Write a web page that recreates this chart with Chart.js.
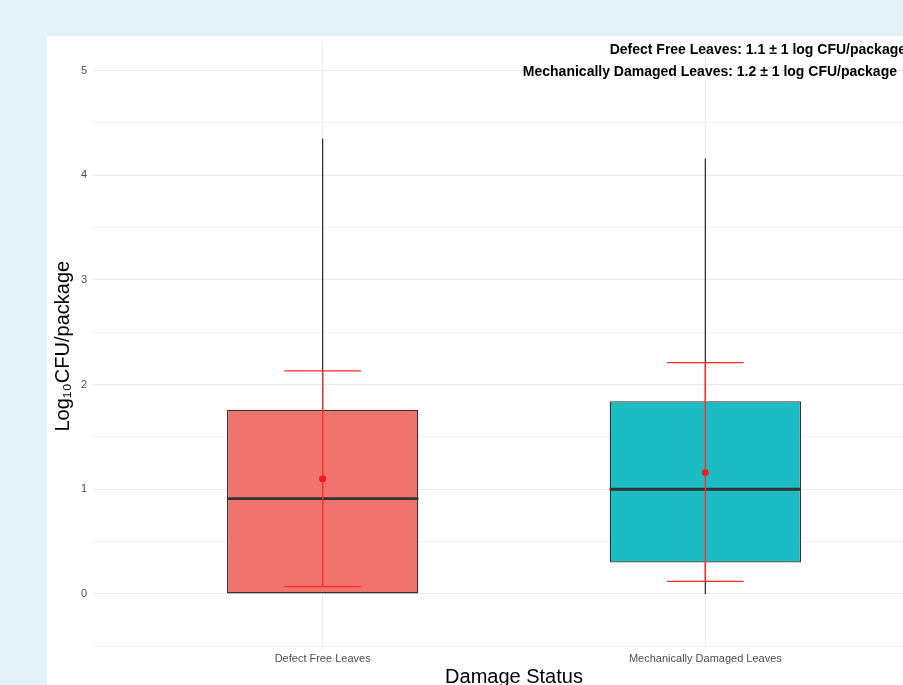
<!DOCTYPE html>
<html>
<head>
<meta charset="utf-8">
<script src="https://cdn.jsdelivr.net/npm/chart.js@4.4.0/dist/chart.umd.min.js"></script>
<style>
  html, body { margin: 0; padding: 0; }
  body { width: 903px; height: 685px; overflow: hidden; background: #e3f2f7; position: relative; font-family: "Liberation Sans", Arial, sans-serif; }
  #panel { position: absolute; left: 47px; top: 36px; width: 856px; height: 649px; background: #fff; }
  #holder { position: absolute; left: 47px; top: 30px; width: 900px; height: 659px; }
  .note { position: absolute; font-weight: bold; font-size: 14px; color: #000; white-space: nowrap; }
</style>
</head>
<body>
<div id="panel"></div>
<div id="holder"><canvas id="chart"></canvas></div>
<div class="note" style="right:-3px; top:41px;">Defect Free Leaves: 1.1 ± 1 log CFU/package</div>
<div class="note" style="right:6px; top:63px;">Mechanically Damaged Leaves: 1.2 ± 1 log CFU/package</div>
<script>
// data
var categories = ["Defect Free Leaves", "Mechanically Damaged Leaves"];
var xPos = [1, 2];
var q1 = [0, 0.30];
var q3 = [1.76, 1.84];
var medians = [0.91, 1.0];
var whiskerLow = [0, 0];
var whiskerHigh = [4.35, 4.16];
var means = [1.10, 1.16];
var errLow = [0.07, 0.12];
var errHigh = [2.13, 2.21];
var yTicks = [0, 1, 2, 3, 4, 5];
var yMinor = [-0.5, 0.5, 1.5, 2.5, 3.5, 4.5];
var fills = ["#f1736d", "#1bbcc4"];

var boxHalf = 0.25, capHalf = 0.1;

// build segment lists (null breaks the line)
var whiskers = [], medianSeg = [], errSeg = [];
xPos.forEach(function (x, i) {
  whiskers.push({x: x, y: q3[i]}, {x: x, y: whiskerHigh[i]}, {x: x, y: null});
  whiskers.push({x: x, y: whiskerLow[i]}, {x: x, y: q1[i]}, {x: x, y: null});
  medianSeg.push({x: x - boxHalf, y: medians[i]}, {x: x + boxHalf, y: medians[i]}, {x: x, y: null});
  errSeg.push({x: x, y: errLow[i]}, {x: x, y: errHigh[i]}, {x: x, y: null});
  errSeg.push({x: x - capHalf, y: errHigh[i]}, {x: x + capHalf, y: errHigh[i]}, {x: x, y: null});
  errSeg.push({x: x - capHalf, y: errLow[i]}, {x: x + capHalf, y: errLow[i]}, {x: x, y: null});
});

var allY = yTicks.concat(yMinor).sort(function (a, b) { return a - b; });

new Chart(document.getElementById("chart"), {
  type: "bar",
  data: {
    datasets: [
      {
        type: "bar",
        data: xPos.map(function (x, i) { return {x: x, y: [q1[i], q3[i]]}; }),
        backgroundColor: fills,
        borderColor: "#333333",
        borderWidth: 1.3,
        borderSkipped: false,
        barPercentage: 0.5,
        categoryPercentage: 1,
        order: 10
      },
      {
        type: "line",
        data: whiskers,
        borderColor: "#333333",
        borderWidth: 1.3,
        pointRadius: 0,
        spanGaps: false,
        order: 8
      },
      {
        type: "line",
        data: medianSeg,
        borderColor: "#333333",
        borderWidth: 2.8,
        pointRadius: 0,
        spanGaps: false,
        order: 6
      },
      {
        type: "line",
        data: errSeg,
        borderColor: "#ff2a2a",
        borderWidth: 1.3,
        pointRadius: 0,
        spanGaps: false,
        order: 4
      },
      {
        type: "line",
        data: xPos.map(function (x, i) { return {x: x, y: means[i]}; }),
        showLine: false,
        pointRadius: 3.5,
        pointBackgroundColor: "#ee1c25",
        pointBorderWidth: 0,
        order: 2
      }
    ]
  },
  options: {
    responsive: true,
    maintainAspectRatio: false,
    animation: false,
    layout: { padding: { top: 0, right: 12, left: 0, bottom: 0 } },
    plugins: { legend: { display: false }, tooltip: { enabled: false } },
    scales: {
      x: {
        type: "linear",
        min: 0.4,
        max: 2.6,
        offset: false,
        afterBuildTicks: function (scale) {
          scale.ticks = xPos.map(function (v) { return {value: v}; });
        },
        ticks: {
          color: "#4d4d4d",
          font: { size: 11, family: "Liberation Sans" },
          padding: 3,
          maxRotation: 0,
          autoSkip: false,
          callback: function (v) { return categories[xPos.indexOf(v)]; }
        },
        grid: { color: "#ebebeb", drawTicks: false, offset: false },
        border: { display: false },
        title: {
          display: true,
          text: "Damage Status",
          color: "#000",
          font: { size: 20, family: "Liberation Sans" },
          padding: { top: -4, bottom: 0 }
        }
      },
      y: {
        min: -0.534,
        max: 5.267,
        afterBuildTicks: function (scale) {
          scale.ticks = allY.map(function (v) { return {value: v}; });
        },
        afterFit: function (scale) { scale.width = 46; },
        ticks: {
          color: "#4d4d4d",
          font: { size: 11, family: "Liberation Sans" },
          padding: 6,
          autoSkip: false,
          callback: function (v) { return yTicks.indexOf(v) >= 0 ? String(v) : ""; }
        },
        grid: {
          drawTicks: false,
          color: function (ctx) { return yTicks.indexOf(ctx.tick.value) >= 0 ? "#ebebeb" : "#f3f3f3"; }
        },
        border: { display: false },
        title: {
          display: true,
          text: "Log\u2081\u2080CFU/package",
          color: "#000",
          font: { size: 20, family: "Liberation Sans" },
          padding: { top: 4, bottom: 0 }
        }
      }
    }
  }
});
</script>
</body>
</html>
